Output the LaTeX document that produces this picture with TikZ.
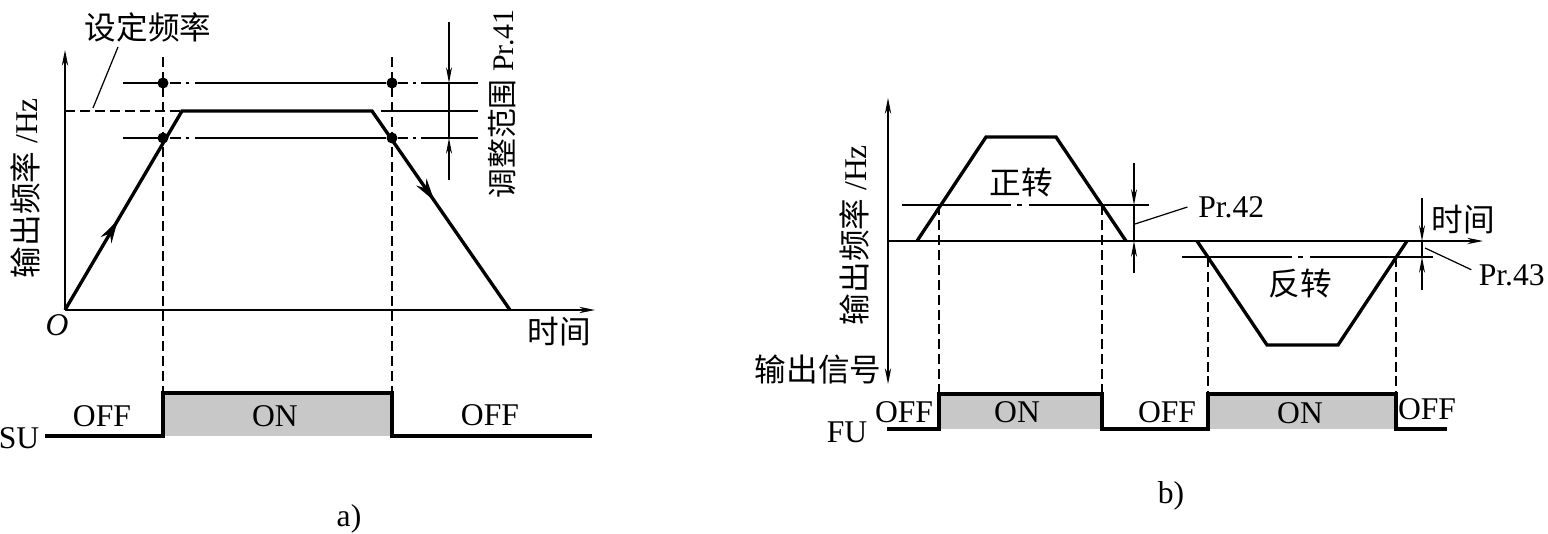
\documentclass[tikz,border=0pt]{standalone}
\usepackage{fontspec}
\setmainfont{Liberation Serif}
\newfontfamily\cjk{Noto Sans CJK SC}
\usepackage{tikz}
\usetikzlibrary{arrows.meta,decorations.markings}
\definecolor{ongray}{HTML}{C8C8C8}

\tikzset{
  lbl/.style={font=\fontsize{18}{20}\selectfont,inner sep=0pt},
  thinline/.style={line width=.7pt},
  guide/.style={line width=.7pt,dash pattern=on 5.7pt off 2.8pt},
  sigline/.style={line width=1.9pt,line join=miter},
  ramp/.style={line width=1.9pt,line join=miter},
  axisline/.style={line width=.8pt,-{Stealth[length=9pt,width=3.6pt]}},
  dimarrow/.style={line width=.7pt,-{Stealth[length=9pt,width=3.4pt]}},
  rampmarks/.style={postaction={decorate},decoration={markings,
    mark=at position .157 with {\arrow{Stealth[length=13pt,width=7pt]}},
    mark=at position .80 with {\arrow{Stealth[length=13pt,width=7pt]}}}},
}

\begin{document}
\begin{tikzpicture}[x=0.02cm,y=-0.02cm]
  \useasboundingbox (0,0) rectangle (1548,534);

  % ---- a) ----
  \coordinate (O) at (65,310);
  \coordinate (ytop) at (65,50);
  \coordinate (xend) at (595,310);
  \draw[axisline] (O) -- (ytop);
  \draw[axisline] (O) -- (xend);
  \node[lbl] (o) at (57,325) {\itshape O};
  \node[lbl] (ta) at (559,332) {\cjk 时间};
  \node[lbl,rotate=90] (fa) at (25,188) {{\cjk 输出频率} /Hz};

  \coordinate (a1) at (182,111);
  \coordinate (a2) at (372,111);
  \coordinate (a3) at (510,310);
  \draw[ramp,rampmarks] (O) -- (a1) -- (a2) -- (a3);

  % set frequency and adjusting range
  \draw[guide] (O |- a1) -- (180,111);
  \draw[thinline] (381,111) -- (478,111);
  \foreach \yy in {83,138}{
    \draw[thinline] (123,\yy) -- (158,\yy) (170,\yy) -- (181,\yy)
      (186,\yy) -- (189,\yy) (195,\yy) -- (386,\yy) (398,\yy) -- (408,\yy)
      (413,\yy) -- (416,\yy) (421,\yy) -- (478,\yy);
    \fill (163,\yy) circle[radius=5.5] (392,\yy) circle[radius=5.5];
  }
  \foreach \xx in {163,392}
    \draw[guide] (\xx,57) -- (\xx,393);

  \node[lbl] (sd) at (148,27) {\cjk 设定频率};
  \coordinate (sdtop) at (118,47);
  \coordinate (sdlow) at (93,108);
  \draw[thinline] (sdlow) -- (sdtop);

  \coordinate (d1) at (449,83);
  \coordinate (d2) at (449,138);
  \draw[dimarrow] (449,22) -- (d1);
  \draw[dimarrow] (449,180) -- (d2);
  \draw[thinline] (d1) -- (d2);
  \node[lbl,rotate=90,anchor=west,font=\fontsize{17}{19}\selectfont]
    (rg) at (502,199) {{\cjk 调整范围} Pr.41};

  % SU signal
  \fill[ongray] (163,393) rectangle (392,436);
  \draw[sigline] (45,436) -- (163,436) -- (163,393) -- (392,393)
    -- (392,436) -- (592,436);
  \node[lbl] (su) at (19,438) {SU};
  \node[lbl] (off1) at (102,416) {OFF};
  \node[lbl] (on1) at (275,416) {ON};
  \node[lbl] (off2) at (490,415) {OFF};
  \node[lbl] (capa) at (349,519) {a)};

  % ---- b) ----
  \coordinate (Ob) at (888,241);
  \draw[line width=.8pt,{Stealth[length=9pt,width=3.6pt]}-{Stealth[length=9pt,width=3.6pt]}]
    (888,98) -- (888,384);
  \draw[axisline] (Ob) -- (1483,241);
  \node[lbl] (tb) at (1463,220) {\cjk 时间};
  \node[lbl,rotate=90] (fb) at (854,235) {{\cjk 输出频率} /Hz};
  \node[lbl] (sig) at (818,369) {\cjk 输出信号};

  \draw[ramp] (917,241) -- (986,137) -- (1056,137) -- (1126,241);
  \draw[ramp] (1197,241) -- (1267,345) -- (1338,345) -- (1407,241);
  \node[lbl] (fwd) at (1021,182) {\cjk 正转};
  \node[lbl] (rev) at (1300,284) {\cjk 反转};

  \draw[thinline] (902,205) -- (1011,205) (1017,205) -- (1022,205)
    (1029,205) -- (1149,205);
  \draw[thinline] (1182,257) -- (1292,257) (1298,257) -- (1303,257)
    (1310,257) -- (1433,257);
  \foreach \xx in {939,1102}
    \draw[guide] (\xx,205) -- (\xx,394);
  \foreach \xx in {1208,1396}
    \draw[guide] (\xx,257) -- (\xx,394);

  % Pr.42 / Pr.43
  \coordinate (e1) at (1134,205);
  \coordinate (e2) at (1134,241);
  \draw[dimarrow] (1134,163) -- (e1);
  \draw[dimarrow] (1134,273) -- (e2);
  \draw[thinline] (e1) -- (e2);
  \node[lbl,anchor=west] (p42) at (1198,207) {Pr.42};
  \coordinate (p42l) at (1135,224);
  \draw[thinline] (p42l) -- ([xshift=-6pt]p42.west);

  \coordinate (g1) at (1422,241);
  \coordinate (g2) at (1422,257);
  \draw[dimarrow] (1422,198) -- (g1);
  \draw[dimarrow] (1422,290) -- (g2);
  \draw[thinline] (g1) -- (g2);
  \node[lbl,anchor=east] (p43) at (1545,275) {Pr.43};
  \coordinate (p43l) at (1425,248);
  \draw[thinline] (p43l) -- ([xshift=-4pt,yshift=3pt]p43.west);

  % FU signal
  \fill[ongray] (939,394) rectangle (1102,429);
  \fill[ongray] (1208,394) rectangle (1396,429);
  \draw[sigline] (887,429) -- (939,429) -- (939,394) -- (1102,394)
    -- (1102,429) -- (1208,429) -- (1208,394) -- (1396,394)
    -- (1396,429) -- (1447,429);
  \node[lbl] (fu) at (847,432) {FU};
  \node[lbl] (boff1) at (904,412) {OFF};
  \node[lbl] (bon1) at (1017,412) {ON};
  \node[lbl] (boff2) at (1167,412) {OFF};
  \node[lbl] (bon2) at (1300,413) {ON};
  \node[lbl] (boff3) at (1427,409) {OFF};
  \node[lbl] (capb) at (1171,496) {b)};
\end{tikzpicture}
\end{document}
